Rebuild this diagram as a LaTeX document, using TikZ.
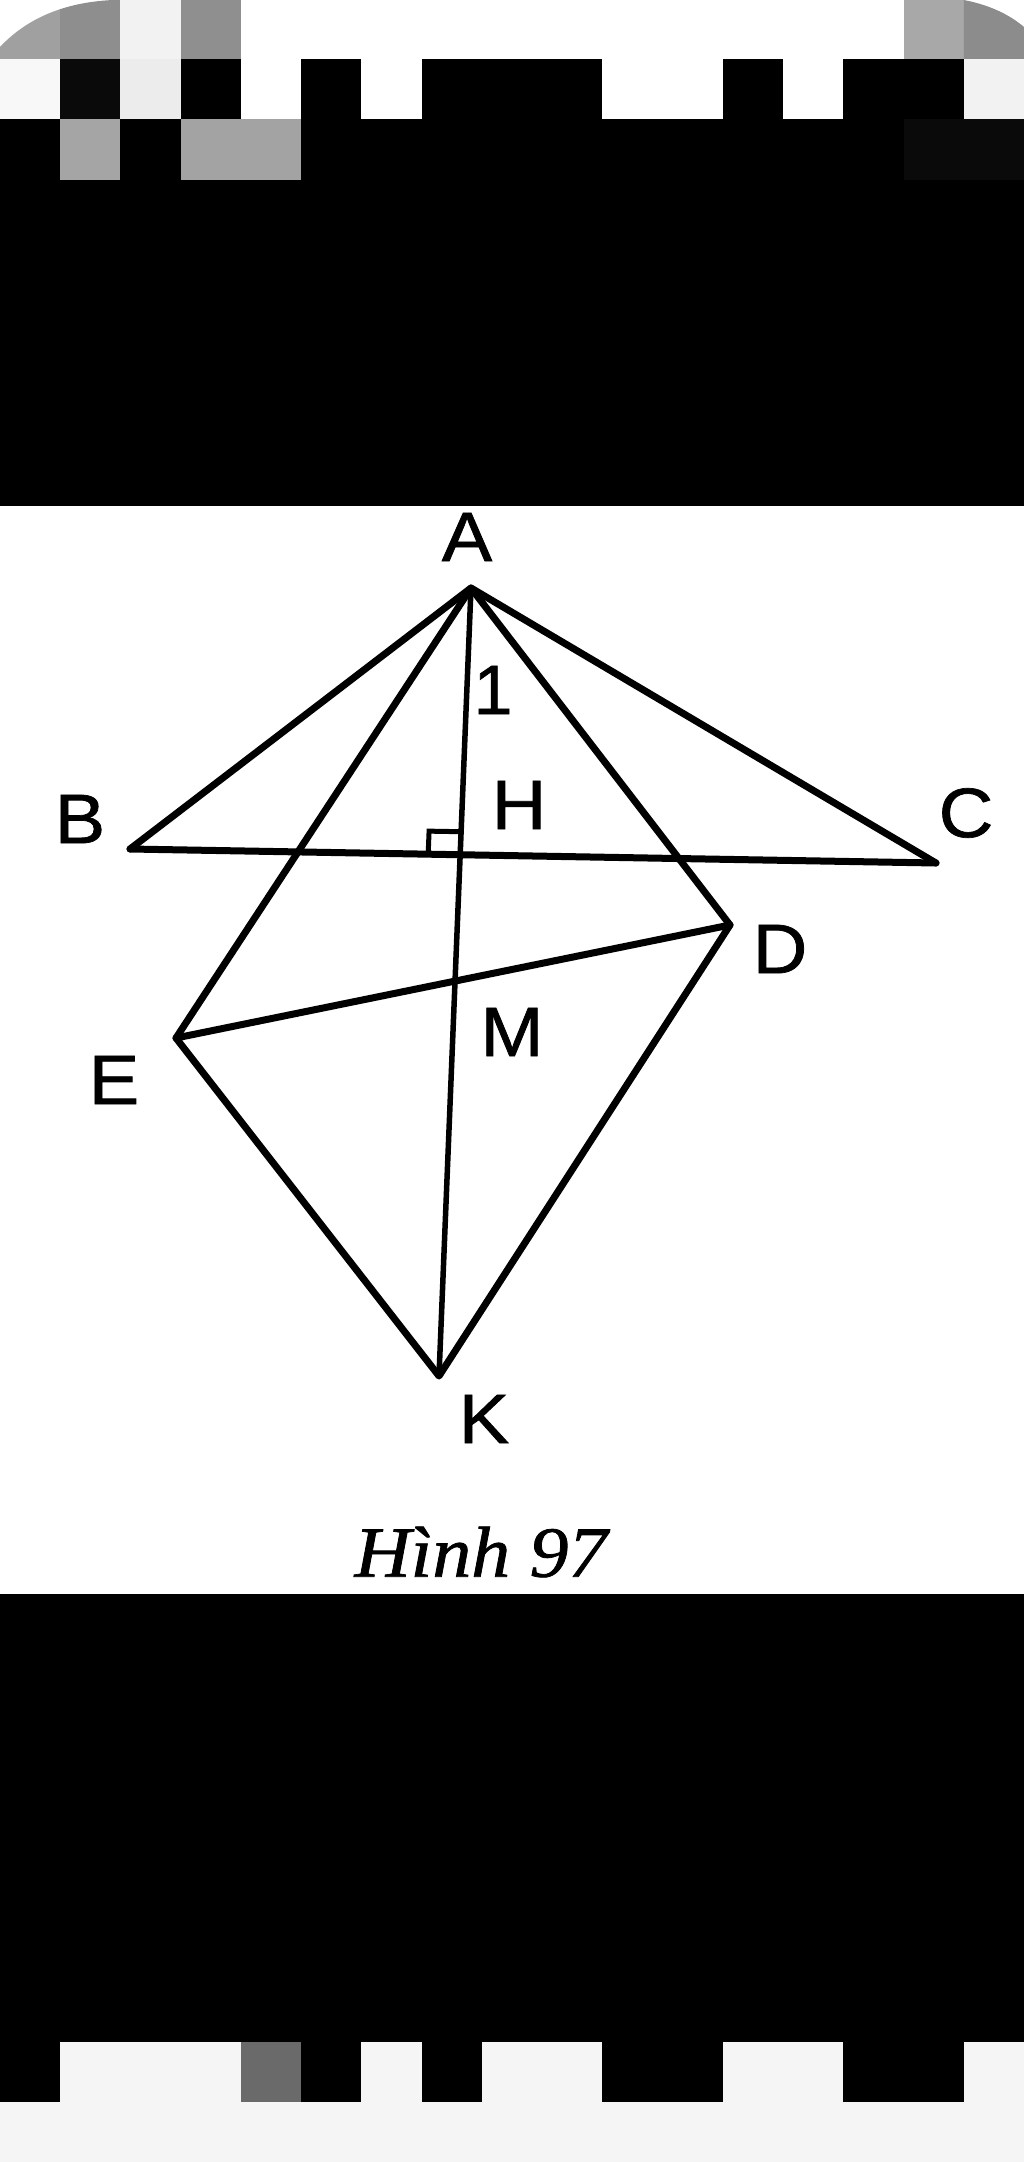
\documentclass[tikz,border=0pt]{standalone}
\usepackage{fontspec}
\setmainfont{Liberation Sans}
\newfontfamily\lblfont[FakeBold=1]{Liberation Sans}
\newfontfamily\capfont[FakeBold=1]{Liberation Serif}
\usetikzlibrary{calc}
\definecolor{gA}{HTML}{A0A0A0}
\definecolor{gB}{HTML}{8E8E8E}
\definecolor{gC}{HTML}{F2F2F2}
\definecolor{gD}{HTML}{8F8F8F}
\definecolor{gE}{HTML}{A8A8A8}
\definecolor{gF}{HTML}{8C8C8C}
\definecolor{gG}{HTML}{F8F8F8}
\definecolor{gH}{HTML}{0A0A0A}
\definecolor{gI}{HTML}{ECECEC}
\definecolor{gJ}{HTML}{A5A5A5}
\definecolor{gK}{HTML}{A3A3A3}
\definecolor{gL}{HTML}{F5F5F5}
\definecolor{gM}{HTML}{6A6A6A}
\newcommand\cellfill[4]{\fill[#4] ({#1*60.23529},#2) rectangle ({(#1+1)*60.23529},#3);}
\begin{document}
\begin{tikzpicture}[x=1pt,y=-1pt,
  seg/.style={line width=7pt,line cap=round,line join=round},
  thinseg/.style={line width=5.5pt,line cap=round},
  marker/.style={line width=5pt,line join=miter},
  lbl/.style={inner sep=0pt,font=\lblfont\fontsize{70}{80}\selectfont},
  capt/.style={inner sep=0pt,font=\capfont\itshape\fontsize{72}{80}\selectfont}]
\useasboundingbox (0,0) rectangle (1024,2162);
\fill[white] (0,0) rectangle (1024,2162);
% ---------- top pixelated band ----------
\begin{scope}
  \clip (0,59) -- (0,47) .. controls (30,15) and (70,2) .. (113,0) -- (120.47,0) -- (120.47,59) -- cycle;
  \cellfill{0}{0}{59}{gA}
  \cellfill{1}{0}{59}{gB}
\end{scope}
\cellfill{2}{0}{59}{gC}
\cellfill{3}{0}{59}{gD}
\cellfill{15}{0}{59}{gE}
\fill[gF] (963.76,0) .. controls (990,5) and (1010,15) .. (1024,27) -- (1024,59) -- (963.76,59) -- cycle;
\fill[black] (0,59) rectangle (1024,506);
\cellfill{0}{59}{119}{gG}
\cellfill{1}{59}{119}{gH}
\cellfill{2}{59}{119}{gI}
\cellfill{4}{59}{119}{white}
\cellfill{6}{59}{119}{white}
\cellfill{10}{59}{119}{white}
\cellfill{11}{59}{119}{white}
\cellfill{13}{59}{119}{white}
\cellfill{16}{59}{119}{gC}
\cellfill{1}{119}{180}{gJ}
\cellfill{3}{119}{180}{gK}
\cellfill{4}{119}{180}{gK}
\cellfill{15}{119}{180}{gH}
\cellfill{16}{119}{180}{gH}
% ---------- bottom pixelated band ----------
\fill[black] (0,1594) rectangle (1024,2102);
\fill[gL] (0,2102) rectangle (1024,2162);
\cellfill{1}{2042}{2102}{gL}
\cellfill{2}{2042}{2102}{gL}
\cellfill{3}{2042}{2102}{gL}
\cellfill{4}{2042}{2102}{gM}
\cellfill{6}{2042}{2102}{gL}
\cellfill{8}{2042}{2102}{gL}
\cellfill{9}{2042}{2102}{gL}
\cellfill{12}{2042}{2102}{gL}
\cellfill{13}{2042}{2102}{gL}
\cellfill{16}{2042}{2102}{gL}
% ---------- geometry ----------
\coordinate (A) at (471,588);
\coordinate (B) at (130,849);
\coordinate (C) at (936,863);
\coordinate (D) at (730,925);
\coordinate (E) at (176,1038);
\coordinate (K) at (439,1376);
\coordinate (H) at (intersection of A--K and B--C);
\coordinate (M) at (intersection of A--K and E--D);
\coordinate (P1) at ($(H)!32pt!(B)$);
\coordinate (P3) at ($(H)!23pt!(A)$);
\coordinate (P2) at ($(P1)+(P3)-(H)$);
\draw[seg] (B) -- (A) -- (C);
\draw[seg] (B) -- (C);
\draw[seg] (A) -- (E) -- (K) -- (D) -- cycle;
\draw[seg] (E) -- (D);
\draw[thinseg] (A) -- (K);
\draw[marker] (P1) -- (P2) -- (P3);
% ---------- labels ----------
\node[lbl] (lA) at (467,537) {\scalebox{1.08}[1]{A}};
\node[lbl] (l1) at (493,690) {1};
\node[lbl] (lH) at (519,805) {\scalebox{1.08}[1]{H}};
\node[lbl] (lB) at (80,819) {\scalebox{1.08}[1]{B}};
\node[lbl] (lC) at (966,813) {\scalebox{1.08}[1]{C}};
\node[lbl] (lD) at (780,949) {\scalebox{1.08}[1]{D}};
\node[lbl] (lM) at (512,1032) {\scalebox{1.08}[1]{M}};
\node[lbl] (lE) at (114,1080) {\scalebox{1.08}[1]{E}};
\node[lbl] (lK) at (484,1419) {\scalebox{1.08}[1]{K}};
\node[capt] (cap) at (481,1552) {\scalebox{1.08}[1]{Hình 97}};
\end{tikzpicture}
\end{document}
